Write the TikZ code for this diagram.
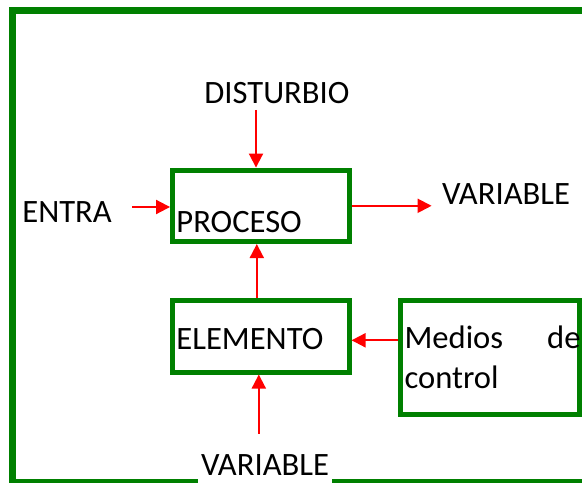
\documentclass[tikz,border=0pt]{standalone}
\usepackage{fontspec}
\setmainfont{Carlito}
\usetikzlibrary{arrows.meta, positioning}
\definecolor{frgreen}{RGB}{0,128,0}

\begin{document}
\begin{tikzpicture}[x=1pt, y=1pt, font=\fontsize{16.3}{20}\selectfont, >=Triangle,
  box/.style={draw=frgreen, line width=2.5pt, minimum width=88.25pt, minimum height=35.75pt, inner sep=0pt},
  txt/.style={inner sep=0pt, anchor=base west},
  arr/.style={draw=red, line width=1pt, -{Triangle[length=7pt, width=7pt]}},
  frame/.style={draw=frgreen, line width=3.3pt}]
\useasboundingbox (0,0) rectangle (291,241);
\clip (0,0) rectangle (291,241);
% boxes
\node[box] (proc) at (130.4,138.1) {};
\node[box, below=27pt of proc] (elem) {};
\node[box, anchor=north west, minimum width=89.5pt, minimum height=57pt, inner xsep=2.25pt,
  text width=85pt, align=left] (med) at ([xshift=23pt]elem.north east)
  {\hbox to 88pt{Medios\hfill de}\\control};
\node[txt] (proct) at ([shift={(3pt,5.6pt)}]proc.south west) {PROCESO};
\node[txt] (elemt) at ([shift={(3pt,12.5pt)}]elem.south west) {ELEMENTO};
% labels
\node[txt] (dist) at (102,189) {DISTURBIO};
\node[txt] (entra) at (11,129.5) {ENTRA};
\node[txt] (vout) at (220.8,138.5) {VARIABLE};
\node[txt, inner xsep=1.5pt] (vin) at (98.8,3.5) {VARIABLE};
% outer frame
\draw[frame] (vin.west |- 0,0) -- (6.35,0) -- (6.35,235.65) -- (300,235.65);
\draw[frame] (vin.east |- 0,0) -- (300,0);
% arrows
\coordinate (dtop) at ([xshift=-2.4pt]proc.north |- 0,186);
\coordinate (ein) at (66,137.5);
\draw[arr] (dtop) -- (dtop |- proc.north);
\draw[arr] (ein) -- (ein -| proc.west);
\draw[arr, shorten >=5pt] (proc.east) -- (proc.east -| vout.west);
\draw[arr] ([xshift=-2pt]elem.north) -- ([xshift=-2pt]proc.south);
\draw[arr] ([yshift=-2pt]elem.east -| med.west) -- ([yshift=-2pt]elem.east);
\draw[arr, shorten <=10pt] ([xshift=-1pt]elem.south |- vin.north) -- ([xshift=-1pt]elem.south);
\end{tikzpicture}
\end{document}
